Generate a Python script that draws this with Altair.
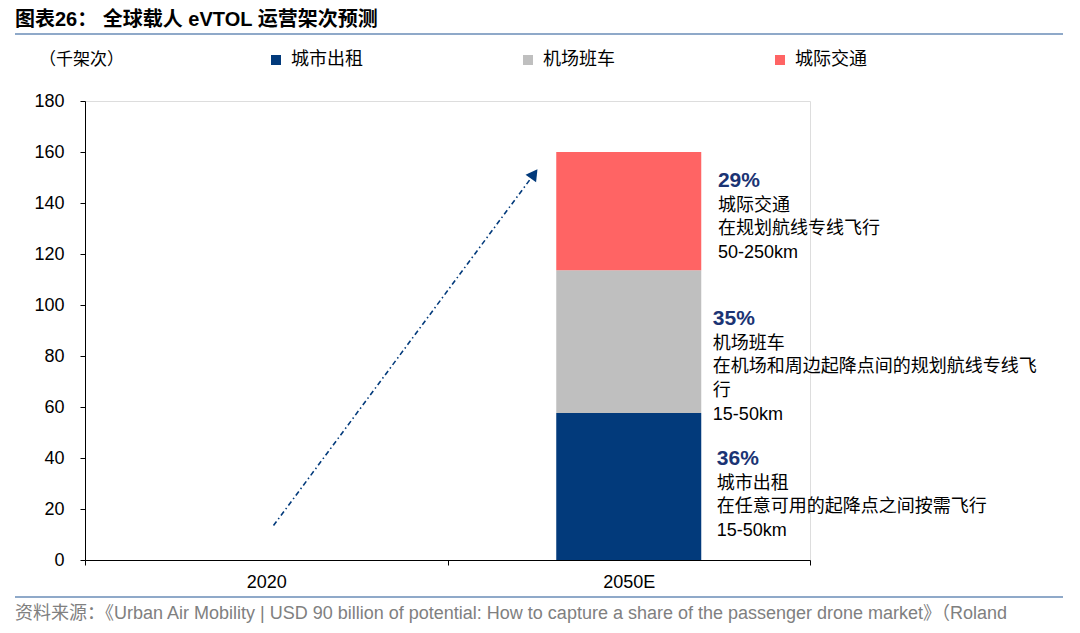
import altair as alt
import pandas as pd

# ---------------- data ----------------
categories = ["2020", "2050E"]
segments = ["城市出租", "机场班车", "城际交通"]
seg_colors = ["#023A7B", "#BFBFBF", "#FF6464"]
values_2050 = [57.6, 56.0, 46.4]          # thousand flights, stacked bottom -> top

total = sum(values_2050)
pct = [f"{round(v / total * 100)}%" for v in values_2050]

# arrow (growth) start/end in (category-position, value)
arrow_x = [0.52, 1.239]
arrow_y = [13.5, 151.4]

# annotation text per segment (line texts)
ann_lines = {
    "城市出租": ["城市出租", "在任意可用的起降点之间按需飞行", "15-50km"],
    "机场班车": ["机场班车", "在机场和周边起降点间的规划航线专线飞", "行", "15-50km"],
    "城际交通": ["城际交通", "在规划航线专线飞行", "50-250km"],
}
ann_x = {"城市出租": 1.743, "机场班车": 1.732, "城际交通": 1.746}
ann_top = {"城市出租": 39.6, "机场班车": 94.5, "城际交通": 148.6}
line_step = 9.3  # value units between annotation lines

title_text = "图表26： 全球载人 eVTOL 运营架次预测"
unit_text = "（千架次）"
source_text = ("资料来源：《Urban Air Mobility | USD 90 billion of potential: How to capture a share "
               "of the passenger drone market》（Roland")

FONT = "Liberation Sans, Arial, Noto Sans CJK SC"
NAVY = "#023A7B"

# ---------------- tables ----------------
bars = pd.DataFrame({
    "cat": ["2050E"] * 3,
    "seg": segments,
    "val": values_2050,
    "ord": [0, 1, 2],
})

arrow_df = pd.DataFrame({"x": arrow_x, "y": arrow_y})
head_df = pd.DataFrame({"x": [arrow_x[1]], "y": [arrow_y[1]]})

pct_rows, txt_rows = [], []
for s, p in zip(segments, pct):
    pct_rows.append({"x": ann_x[s], "y": ann_top[s], "t": p})
    for i, line in enumerate(ann_lines[s]):
        txt_rows.append({"x": ann_x[s], "y": ann_top[s] - (i + 1) * line_step - 0.3, "t": line})
pct_df = pd.DataFrame(pct_rows)
txt_df = pd.DataFrame(txt_rows)

W, H = 725, 459

yscale = alt.Scale(domain=[0, 180])
xq = alt.Scale(domain=[0, 2])

bar_layer = alt.Chart(bars).mark_bar(size=145).encode(
    x=alt.X("cat:N", scale=alt.Scale(domain=categories, paddingInner=0, paddingOuter=0),
            axis=alt.Axis(title=None, labelAngle=0, tickBand="extent", tickSize=5,
                          labelPadding=8, labelFontSize=18, labelFont=FONT,
                          labelColor="#000000", domainColor="#000000", tickColor="#000000")),
    y=alt.Y("val:Q", stack="zero", scale=yscale,
            axis=alt.Axis(title=None, values=list(range(0, 181, 20)), tickSize=5,
                          labelPadding=16, labelFontSize=18, labelFont=FONT,
                          labelColor="#000000", domainColor="#000000", tickColor="#000000",
                          grid=False)),
    color=alt.Color("seg:N", scale=alt.Scale(domain=segments, range=seg_colors),
                    legend=alt.Legend(title=None, orient="none", legendX=182, legendY=-50,
                                      direction="horizontal", symbolType="square",
                                      symbolSize=100, symbolStrokeWidth=0,
                                      labelFontSize=18, labelFont="Noto Sans CJK SC",
                                      labelColor="#000000", labelOffset=6,
                                      columnPadding=156)),
    order=alt.Order("ord:Q"),
)

arrow_line = alt.Chart(arrow_df).mark_line(
    color=NAVY, strokeWidth=1.6, strokeDash=[5, 3, 1.5, 3]
).encode(
    x=alt.X("x:Q", scale=xq, axis=None),
    y=alt.Y("y:Q", scale=yscale),
)

arrow_head = alt.Chart(head_df).mark_point(
    shape="triangle-up", filled=True, size=170, color=NAVY, opacity=1, angle=36
).encode(
    x=alt.X("x:Q", scale=xq, axis=None),
    y=alt.Y("y:Q", scale=yscale),
)

pct_layer = alt.Chart(pct_df).mark_text(
    align="left", baseline="middle", fontSize=21, fontWeight="bold", font=FONT, color="#1B3474"
).encode(
    x=alt.X("x:Q", scale=xq, axis=None),
    y=alt.Y("y:Q", scale=yscale),
    text="t:N",
)

txt_layer = alt.Chart(txt_df).mark_text(
    align="left", baseline="middle", fontSize=18, font=FONT, color="#000000"
).encode(
    x=alt.X("x:Q", scale=xq, axis=None),
    y=alt.Y("y:Q", scale=yscale),
    text="t:N",
)

deco = pd.DataFrame({"k": [0]})
title_mark = alt.Chart(deco).mark_text(
    align="left", baseline="middle", fontSize=20, fontWeight="bold", font=FONT, color="#000000"
).encode(x=alt.value(-70), y=alt.value(-81), text=alt.value(title_text))

unit_mark = alt.Chart(deco).mark_text(
    align="left", baseline="middle", fontSize=17, font="Noto Sans CJK SC", color="#000000"
).encode(x=alt.value(-46), y=alt.value(-41), text=alt.value(unit_text))

top_rule = alt.Chart(deco).mark_rule(color="#8FA9C9", strokeWidth=2).encode(
    x=alt.value(-70), x2=alt.value(978), y=alt.value(-67))

bot_rule = alt.Chart(deco).mark_rule(color="#8FA9C9", strokeWidth=2).encode(
    x=alt.value(-70), x2=alt.value(978), y=alt.value(496))

source_mark = alt.Chart(deco).mark_text(
    align="left", baseline="middle", fontSize=18,
    font="Liberation Sans Narrow, Liberation Sans, Noto Sans CJK SC",
    color="#808080"
).encode(x=alt.value(-70), y=alt.value(513), text=alt.value(source_text))

chart = alt.layer(
    bar_layer, arrow_line, arrow_head, pct_layer, txt_layer,
    title_mark, unit_mark, top_rule, bot_rule, source_mark
).resolve_scale(
    x="independent"
).properties(
    width=W, height=H,
    autosize=alt.AutoSizeParams(type="none"),
    padding={"left": 77, "top": 93, "right": 258, "bottom": 64},
).configure_view(
    stroke=None
).configure(
    background="#ffffff"
)

chart.save("out.html", embed_options={"renderer": "svg", "actions": False})
